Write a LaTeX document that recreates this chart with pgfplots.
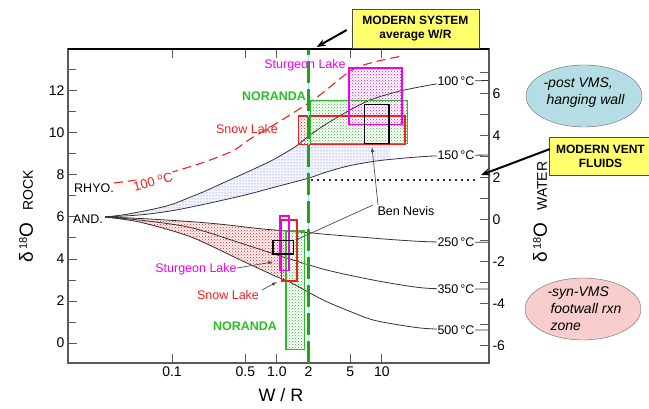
\documentclass[border=0pt]{standalone}
\usepackage{pgfplots}
\pgfplotsset{compat=1.18}
\usepackage{fontspec}
\setmainfont{Liberation Sans}
\usetikzlibrary{patterns,arrows.meta,shapes.geometric}
\definecolor{cgreen}{RGB}{40,190,40}
\definecolor{cred}{RGB}{240,30,30}
\definecolor{cmag}{RGB}{240,0,240}
\definecolor{cblue}{RGB}{50,70,210}
\definecolor{cnavy}{RGB}{30,30,150}
\definecolor{cyellow}{RGB}{255,255,110}
\definecolor{ccyan}{RGB}{180,222,228}
\definecolor{cpink}{RGB}{248,205,205}
\newcommand{\fs}[1]{\fontsize{#1}{#1}\selectfont}
\begin{document}
\begin{tikzpicture}
\useasboundingbox (-68pt,-46pt) rectangle (581pt,363pt);
\begin{axis}[at={(0,0)}, anchor=south west, scale only axis, width=421pt, height=314pt,
  xmode=log, xmin=0.0102, xmax=105, ymin=-0.952, ymax=14,
  xtick={0.1,0.5,1,2,5,10}, xticklabels={0.1,0.5,1.0,2,5,10}, minor xtick={},
  xticklabel pos=lower,
  ytick={0,2,4,6,8,10,12}, yticklabels={0,2,4,6,8,10,12}, minor ytick={1,3,5,7,9,11,13},
  ytick pos=left,
  tick align=inside, major tick length=9pt, minor tick length=8pt,
  tick label style={font=\fs{14}},
  axis line style={black!65, line width=1.1pt},
  tick style={black!65, line width=1pt},
]
% blue region (rhyolite)
\addplot[draw=none, pattern=dots, pattern color=cblue!80, preaction={fill=blue!4}] coordinates {
 (0.023,6.0) (0.034,6.1) (0.05,6.25) (0.07,6.4) (0.1,6.6) (0.15,6.95) (0.2,7.2) (0.3,7.6) (0.5,8.1) (0.9,8.7) (1.5,9.35) (1.6,9.45) (12,9.45) (12,8.73)
 (10,8.7) (5,8.45) (3,8.15) (2,7.85) (1,7.45) (0.5,7.05) (0.2,6.6) (0.1,6.3) (0.05,6.1) (0.023,6.0)} -- cycle;
% red region (andesite)
\addplot[draw=none, pattern=crosshatch dots, pattern color=cred, preaction={fill=red!5}] coordinates {
 (0.023,6.0) (0.05,5.93) (0.15,5.78) (0.3,5.65) (0.64,5.46) (1.3,5.32) (1.5,5.3) (1.5,2.8)
 (1.33,2.9) (1.0,3.15) (0.45,3.95) (0.15,5.06) (0.05,5.75) (0.023,6.0)} -- cycle;
% upper rectangle fills
\addplot[draw=none, pattern=crosshatch dots, pattern color=cred, preaction={fill=white}] coordinates {(1.6,9.45) (16.6,9.45) (16.6,10.8) (1.6,10.8)} -- cycle;
\addplot[draw=none, pattern=crosshatch dots, pattern color=cgreen, preaction={fill=white}] coordinates {(2.1,9.5) (17.5,9.5) (17.5,11.55) (2.1,11.55)} -- cycle;
\addplot[draw=none, pattern=crosshatch dots, pattern color=cmag, preaction={fill=white}] coordinates {(4.85,10.4) (15.6,10.4) (15.6,13.1) (4.85,13.1)} -- cycle;
% lower rectangle fill
\addplot[draw=none, pattern=crosshatch dots, pattern color=cgreen, preaction={fill=white}] coordinates {(1.22,-0.3) (1.83,-0.3) (1.83,5.33) (1.22,5.33)} -- cycle;
% curves
\addplot[black!80, line width=0.8pt, smooth, tension=0.5] coordinates {(0.023,6.0) (0.034,6.1) (0.05,6.25) (0.07,6.4) (0.1,6.6) (0.15,6.95) (0.2,7.2) (0.3,7.6) (0.5,8.1) (0.9,8.7) (1.5,9.35) (2.0,9.85) (3.0,10.45) (5.0,11.1) (8.0,11.6) (15,12.0) (30,12.3) (50,12.45) (105,12.5)};
\addplot[black!80, line width=0.8pt, smooth, tension=0.5] coordinates {(0.023,6.0) (0.05,6.1) (0.1,6.3) (0.2,6.6) (0.5,7.05) (1,7.45) (2,7.85) (3,8.15) (5,8.45) (10,8.7) (30,8.9) (105,8.95)};
\addplot[black!80, line width=0.8pt, smooth, tension=0.5] coordinates {(0.023,6.0) (0.05,5.93) (0.15,5.78) (0.3,5.65) (0.64,5.46) (1.3,5.32) (2.06,5.25) (3,5.17) (5.7,5.06) (12,4.93) (25,4.83) (50,4.8) (105,4.8)};
\addplot[black!80, line width=0.8pt, smooth, tension=0.5] coordinates {(0.023,6.0) (0.05,5.85) (0.15,5.5) (0.45,4.76) (1.14,4.1) (1.33,4.0) (2.75,3.52) (5.7,3.16) (12,2.85) (25,2.62) (50,2.57) (105,2.57)};
\addplot[black!80, line width=0.8pt, smooth, tension=0.5] coordinates {(0.023,6.0) (0.05,5.75) (0.15,5.06) (0.45,3.95) (1.0,3.15) (1.33,2.9) (2.75,2.05) (5,1.5) (8.2,1.1) (15,0.85) (25,0.7) (50,0.63) (105,0.62)};
% red dashed 100 C rhyolite curve
\addplot[cred, line width=1.1pt, dash pattern=on 9pt off 5pt, smooth, tension=0.5] coordinates {(0.028,7.62) (0.06,7.85) (0.11,8.2) (0.2,8.6) (0.38,9.15) (0.55,9.7) (1.1,10.6) (2.4,11.7) (5,12.95) (8,13.35) (15,13.65)};
% rectangle outlines
\addplot[cred, line width=1.4pt] coordinates {(1.6,9.45) (16.6,9.45) (16.6,10.8) (1.6,10.8)} -- cycle;
\addplot[cgreen, line width=1.4pt] coordinates {(2.1,9.5) (17.5,9.5) (17.5,11.55) (2.1,11.55)} -- cycle;
\addplot[cmag, line width=1.4pt] coordinates {(4.85,10.4) (15.6,10.4) (15.6,13.1) (4.85,13.1)} -- cycle;
\addplot[black, line width=1.4pt] coordinates {(6.8,9.5) (11.7,9.5) (11.7,11.35) (6.8,11.35)} -- cycle;
\addplot[cgreen, line width=1.4pt] coordinates {(1.22,-0.3) (1.83,-0.3) (1.83,5.33) (1.22,5.33)} -- cycle;
\addplot[cred, line width=1.4pt] coordinates {(1.11,2.95) (1.56,2.95) (1.56,5.86) (1.11,5.86)} -- cycle;
\addplot[cmag, line width=1.4pt] coordinates {(1.07,3.45) (1.30,3.45) (1.30,6.05) (1.07,6.05)} -- cycle;
\addplot[black, line width=1.4pt] coordinates {(0.92,4.24) (1.43,4.24) (1.43,4.87) (0.92,4.87)} -- cycle;
% modern system W/R
\addplot[cyan!35, line width=1pt] coordinates {(2,-0.952) (2,14)};
\addplot[cgreen!85!black, line width=3pt, dash pattern=on 22pt off 6pt] coordinates {(2,-0.952) (2,14)};
% modern vent fluids
\addplot[cnavy, line width=2.5pt, dash pattern=on 2.5pt off 3.5pt] coordinates {(2.1,7.76) (78,7.76)};
\end{axis}
\begin{axis}[at={(0,0)}, anchor=south west, scale only axis, width=421pt, height=314pt,
  xmode=log, xmin=0.0102, xmax=105, ymin=-6.81, ymax=8.14,
  axis x line=none, axis y line*=right, axis line style={-, black!65, line width=1.1pt},
  ytick={-6,-4,-2,0,2,4,6}, yticklabels={-6,-4,-2,0,2,4,6}, minor ytick={-5,-3,-1,1,3,5,7},
  tick align=inside, major tick length=9pt, minor tick length=9pt,
  tick label style={font=\fs{14}},
  tick style={black!65, line width=1pt},
]
\addplot[draw=none] coordinates {(1,0)};
\end{axis}
\draw[black, line width=1.2pt] (0pt,314pt) -- (421pt,314pt);
\begin{scope}[x=1pt,y=1pt]
% curve labels at right
\foreach \yy/\tt in {282/100,208/150,121/250,74/350,33/500}
  \node[fill=white, inner sep=1pt, font=\fs{12.5}] at (388,\yy) {\tt\,°C};
% boxes
\node[draw=black!70, fill=cyellow, minimum width=127pt, minimum height=39pt, align=center, inner sep=0pt, font=\fontsize{12}{14}\selectfont\bfseries] at (347.5,334.5) {MODERN SYSTEM\\average W/R};
\node[draw=black!70, fill=cyellow, minimum width=103pt, minimum height=38pt, align=center, inner sep=0pt, font=\fontsize{12}{14}\selectfont\bfseries] at (532.5,207) {MODERN VENT\\FLUIDS};
\draw[black, line width=2pt, -{Stealth[length=9pt,width=7pt]}] (278.7,333) -- (248.7,316);
\draw[black, line width=2pt, -{Stealth[length=9pt,width=7pt]}] (482,214) -- (413,188);
% ellipses
\node[ellipse, draw=black!60, fill=ccyan, minimum width=116pt, minimum height=62pt] at (516,267) {};
\node[align=left, font=\fontsize{14}{17}\selectfont\itshape] at (516,270) {-post VMS,\\\hspace*{3pt}hanging wall};
\node[ellipse, draw=black!60, fill=cpink, minimum width=116pt, minimum height=62pt] at (515,54) {};
\node[anchor=west, align=left, font=\fontsize{14}{17}\selectfont\itshape] at (476,54) {-syn-VMS\\\hspace*{3pt}footwall rxn\\\hspace*{3pt}zone};
% data labels
\node[font=\fs{12.5}, text=cmag] at (237,298) {Sturgeon Lake};
\node[font=\fs{12.5}\bfseries, text=cgreen] at (206,267) {NORANDA};
\node[font=\fs{12.5}, text=cred] at (179,234) {Snow Lake};
\node[font=\fs{12.5}] at (26,175) {RHYO.};
\node[font=\fs{12.5}] at (20,144) {AND.};
\node[font=\fs{13}, text=cred, rotate=16, fill=white, inner sep=1.5pt] at (85,181) {100 \textsuperscript{o}C};
\node[font=\fs{12.5}] at (338,152) {Ben Nevis};
\node[font=\fs{12.5}, text=cmag] at (128,94) {Sturgeon Lake};
\node[font=\fs{12.5}, text=cred] at (160,68) {Snow Lake};
\node[font=\fs{12.5}\bfseries, text=cgreen] at (177,37) {NORANDA};
% pointers
\draw[black!70, line width=0.7pt, -{Latex[length=5pt,width=3.5pt]}] (310,158) -- (304,216);
\draw[black!70, line width=0.7pt, -{Circle[length=3pt]}] (305,158) -- (228,123);
\draw[black!70, line width=0.7pt, -{Latex[length=5pt,width=3.5pt]}] (169,95) -- (205,101);
\draw[black!70, line width=0.7pt, -{Latex[length=5pt,width=3.5pt]}] (194,73) -- (209,81);
% axis labels
\node[rotate=90] at (-42,147) {\fs{19}δ\hspace{2pt}\raisebox{6pt}{\fs{11}18}O\hspace{12pt}\fs{14}ROCK};
\node[rotate=90] at (472,151) {\fs{19}δ\hspace{2pt}\raisebox{6pt}{\fs{11}18}O\hspace{12pt}\fs{14}WATER};
\node[anchor=base, font=\fs{18}] at (213,-39) {W / R};
\end{scope}
\end{tikzpicture}
\end{document}
